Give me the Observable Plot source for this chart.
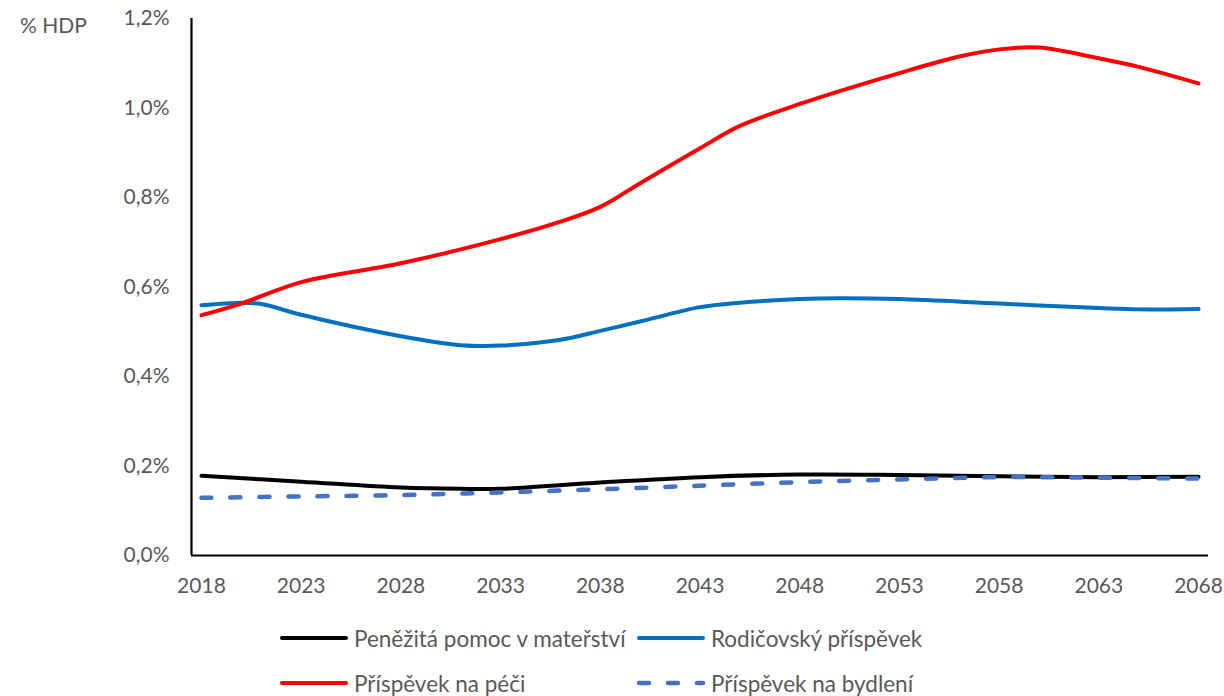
<!DOCTYPE html>
<html>
<head>
<meta charset="utf-8">
<script src="https://cdn.jsdelivr.net/npm/d3@7"></script>
<script src="https://cdn.jsdelivr.net/npm/@observablehq/plot@0.6"></script>
<style>
  html, body { margin: 0; padding: 0; background: #fff; }
  body { width: 1224px; height: 696px; position: relative; font-family: Lato, "Open Sans", sans-serif; color: #595959; }
  #unit { position: absolute; left: 20px; top: 12px; font-size: 21px; }
  #chart { position: absolute; left: 0; top: 0; }
  .legend { position: absolute; font-size: 22.5px; display: flex; align-items: center; white-space: nowrap; }
  .legend svg { margin-right: 6px; }
</style>
</head>
<body>
<div id="chart"></div>
<div id="unit">% HDP</div>
<div id="legend"></div>
<script>
// Series names
const seriesNames = ["Peněžitá pomoc v mateřství", "Rodičovský příspěvek", "Příspěvek na péči", "Příspěvek na bydlení"];
const seriesColors = ["#000000", "#0070C0", "#FF0000", "#4472C4"];

// Values (% HDP)
const yearsMaternity = [2018, 2023, 2028, 2031, 2033, 2038, 2043, 2048, 2053, 2058, 2063, 2068];
const maternity      = [0.178, 0.165, 0.152, 0.149, 0.149, 0.163, 0.175, 0.181, 0.180, 0.177, 0.175, 0.176];

const yearsParental  = [2018, 2020, 2021, 2023, 2028, 2031, 2033, 2036, 2038, 2040, 2043, 2045, 2048, 2050, 2053, 2058, 2063, 2065, 2068];
const parental       = [0.559, 0.565, 0.562, 0.538, 0.490, 0.470, 0.469, 0.482, 0.502, 0.523, 0.555, 0.565, 0.573, 0.575, 0.573, 0.563, 0.553, 0.550, 0.551];

const yearsCare      = [2018, 2020, 2023, 2028, 2033, 2036, 2038, 2040, 2043, 2045, 2048, 2053, 2056, 2058, 2060, 2063, 2065, 2068];
const care           = [0.537, 0.563, 0.611, 0.653, 0.707, 0.746, 0.779, 0.832, 0.910, 0.960, 1.009, 1.078, 1.115, 1.131, 1.135, 1.111, 1.092, 1.055];

const yearsHousing   = [2018, 2023, 2028, 2033, 2038, 2043, 2048, 2053, 2058, 2063, 2068];
const housing        = [0.129, 0.132, 0.135, 0.141, 0.148, 0.156, 0.164, 0.170, 0.175, 0.174, 0.172];

const xTicks = [2018, 2023, 2028, 2033, 2038, 2043, 2048, 2053, 2058, 2063, 2068];
const yTicks = [0, 0.2, 0.4, 0.6, 0.8, 1.0, 1.2];

const toRows = (years, vals, name) => years.map((y, i) => ({year: y, value: vals[i], series: name}));
const rowsMat = toRows(yearsMaternity, maternity, seriesNames[0]);
const rowsPar = toRows(yearsParental, parental, seriesNames[1]);
const rowsCare = toRows(yearsCare, care, seriesNames[2]);
const rowsHous = toRows(yearsHousing, housing, seriesNames[3]);

const fmtY = d => d.toFixed(1).replace(".", ",") + "%";

const chart = Plot.plot({
  width: 1224,
  height: 605,
  marginLeft: 191,
  marginRight: 16,
  marginTop: 18,
  marginBottom: 50,
  style: { fontFamily: "Lato, 'Open Sans', sans-serif", fontSize: "21px", color: "#595959", background: "#fff" },
  x: { domain: [2017.5, 2068.5], ticks: xTicks, tickFormat: d => String(d), tickSize: 0, tickPadding: 23, label: null },
  y: { domain: [0, 1.2], ticks: yTicks, tickFormat: fmtY, tickSize: 0, tickPadding: 22, label: null },
  marks: [
    Plot.ruleX([2017.5], { stroke: "#000", strokeWidth: 2.2 }),
    Plot.ruleY([0], { stroke: "#000", strokeWidth: 2.2 }),
    Plot.line(rowsMat, { x: "year", y: "value", stroke: seriesColors[0], strokeWidth: 4, strokeLinecap: "round", curve: "catmull-rom" }),
    Plot.line(rowsHous, { x: "year", y: "value", stroke: seriesColors[3], strokeWidth: 4.5, strokeDasharray: "10 19", strokeLinecap: "round", curve: "catmull-rom" }),
    Plot.line(rowsPar, { x: "year", y: "value", stroke: seriesColors[1], strokeWidth: 4, strokeLinecap: "round", curve: "catmull-rom" }),
    Plot.line(rowsCare, { x: "year", y: "value", stroke: seriesColors[2], strokeWidth: 4, strokeLinecap: "round", curve: "catmull-rom" })
  ]
});
document.getElementById("chart").appendChild(chart);

// Legend
const legendPos = [
  {left: 280, top: 638}, {left: 637, top: 638},
  {left: 280, top: 683}, {left: 637, top: 683}
];
const legend = document.getElementById("legend");
seriesNames.forEach((name, i) => {
  const div = document.createElement("div");
  div.className = "legend";
  div.style.left = legendPos[i].left + "px";
  div.style.top = (legendPos[i].top - 15) + "px";
  div.style.height = "30px";
  const dash = i === 3 ? 'stroke-dasharray="10 19"' : "";
  const sw = i === 3 ? 4.5 : 4;
  div.innerHTML = `<svg width="68" height="10"><line x1="2" y1="5" x2="66" y2="5" stroke="${seriesColors[i]}" stroke-width="${sw}" stroke-linecap="round" ${dash}/></svg><span>${name}</span>`;
  legend.appendChild(div);
});
</script>
</body>
</html>
